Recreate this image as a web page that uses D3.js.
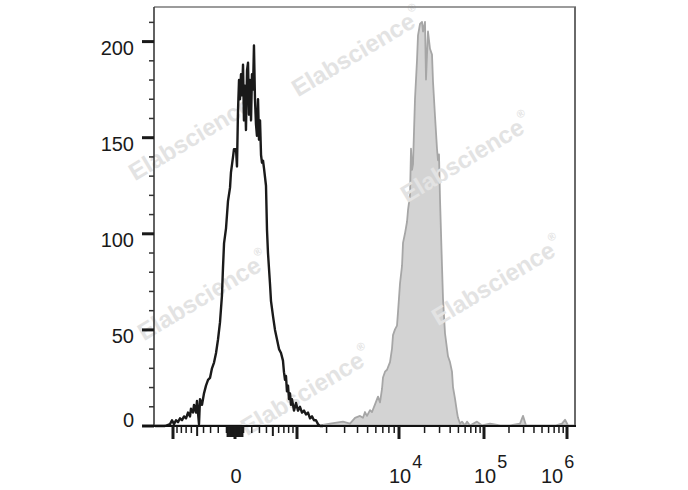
<!DOCTYPE html>
<html><head><meta charset="utf-8">
<script src="https://cdn.jsdelivr.net/npm/d3@7"></script>
<style>body{margin:0;background:#fff}svg{display:block}</style>
</head><body><svg id="c" width="688" height="490"></svg>
<script>
// ---------- data ----------
const yMajorTicks = [0, 50, 100, 150, 200];
const yMinorTicks = [10, 20, 30, 40, 60, 70, 80, 90, 110, 120, 130, 140, 160, 170, 180, 190, 210];
const xAnchorValues = [-1000, 0, 1000, 10000, 100000, 1000000];
const xMajorTicks = [-1000, 0, 1000, 10000, 100000, 1000000];
const xMediumTicks = [-500, 500];
const xMinorTicks = [-900, -800, -700, -600, -400, -300, -200, -100,
  -90, -80, -70, -60, -50, -40, -30, -20, -10, 10, 20, 30, 40, 50, 60, 70, 80, 90,
  100, 200, 300, 400, 600, 700, 800, 900,
  2000, 3000, 4000, 5000, 6000, 7000, 8000, 9000,
  20000, 30000, 40000, 50000, 60000, 70000, 80000, 90000,
  200000, 300000, 400000, 500000, 600000, 700000, 800000, 900000];
const xLabelValues = [0, 10000, 100000, 1000000];
const xLabelBase = ["0", "10", "10", "10"];
const xLabelExponents = ["", "4", "5", "6"];

const unstainedX = [-1570,-1227,-1080,-1026,-974,-924,-876,-830,-786,-743,
  -702,-663,-625,-607,-571,-553,-519,-503,-470,-454,
  -423,-393,-364,-335,-308,-281,-254,-228,-203,-178,
  -154,-142,-129,-105,-82,-58,-47,-35,-23,-12,
  12,23,35,47,58,70,82,94,105,117,
  129,142,154,166,178,191,203,216,228,241,
  254,267,281,294,308,322,335,350,364,393,
  408,423,454,470,503,536,571,607,644,682,
  702,723,743,764,786,808,830,853,876,924,
  974,1025,1076,1129,1185,1243,1303,1366,1431,1499,
  1570,1644,1722,1844];
const unstainedCount = [0,0,1,3,1,3,2,4,3,5,
  4,7,5,9,7,11,7,13,1,14,
  11,17,21,24,25,30,33,38,45,54,
  68,82,95,103,117,124,132,136,140,144,
  144,135,164,180,170,183,172,188,159,177,
  154,185,189,162,180,159,183,175,198,170,
  157,151,170,149,159,141,137,138,134,125,
  102,90,74,65,57,50,45,40,38,34,
  28,24,26,18,21,14,17,11,14,8,
  12,8,10,7,8,6,7,4,5,3,
  3,1,0,0];

const stainedX = [-1610,-454,308,1722,2162,2895,3384,3782,4225,4516,
  4720,4935,5273,5511,5890,6293,6578,6873,7026,7346,
  7677,8202,8571,8761,9156,9570,9783,10281,10853,11151,
  11771,12427,12768,13478,13848,14228,14619,15432,16291,16738,
  17670,18652,19164,20231,20786,21357,21943,23164,24452,25123,
  26522,27997,28767,29557,30369,32055,32937,34769,36704,37712,
  39805,42026,43184,45585,48123,49441,52194,55098,59760,63082,
  68421,82705,94691,118120,155890,205750,271560,295140,320760,473020,
  717100,871000,946700,1028800,1249000];
const stainedCount = [0,0,0,0,1,2,1,4,5,4,
  7,5,8,7,11,15,12,19,25,28,
  29,33,40,47,50,52,59,74,83,95,
  100,106,112,120,144,133,136,170,190,203,
  209,210,205,210,180,193,205,196,193,179,
  161,144,138,141,118,83,66,48,40,36,
  33,28,20,14,7,4,1,2,0,2,
  0,2,0,1,0,0,1,5,0,0,
  0,1,3,0,0];

const watermarkText = "Elabscience";

// ---------- layout ----------
const W = 688, H = 490;
const L = 154, R = 575, TOP = 7, BOT = 426;
const FONT = "'Liberation Sans', Arial, Helvetica, sans-serif";

const svg = d3.select("#c");

// biexponential-like display transform
const tr = v => Math.asinh(v / 500);
const xs = d3.scaleLinear()
  .domain(xAnchorValues.map(tr))
  .range([173, 235, 297, 399, 484, 567]);
const x = v => xs(tr(v));
const y = d3.scaleLinear().domain([0, 218]).range([BOT, TOP]);

const unstained = unstainedX.map((v, i) => ({v, c: unstainedCount[i]}));
const stained = stainedX.map((v, i) => ({v, c: stainedCount[i]}));

// stained (grey filled)
svg.append("path")
  .datum(stained)
  .attr("d", d3.area().x(d => x(d.v)).y0(y(0) - 0.5).y1(d => y(d.c) - 0.5))
  .attr("fill", "#d3d3d3")
  .attr("stroke", "#a6a6a6")
  .attr("stroke-width", 1.8)
  .attr("stroke-linejoin", "round");

// watermarks
const wm = [[357, 52], [194, 136], [466, 158], [203, 296], [497, 281], [306, 391]];
const wg = svg.append("g");
wm.forEach(([cx, cy]) => {
  const t = wg.append("text")
    .attr("transform", `translate(${cx},${cy}) rotate(-31)`)
    .attr("text-anchor", "middle")
    .attr("dominant-baseline", "central")
    .attr("font-family", FONT)
    .attr("font-weight", "bold")
    .attr("font-size", 24)
    .attr("fill", "#e3e3e3")
    .text(watermarkText);
  t.append("tspan").attr("font-size", 11).attr("dy", -10).attr("dx", 1).text("®");
});

// unstained (black outline)
svg.append("path")
  .datum(unstained)
  .attr("d", d3.line().x(d => x(d.v)).y(d => y(d.c)))
  .attr("fill", "none")
  .attr("stroke", "#1a1a1a")
  .attr("stroke-width", 2.4)
  .attr("stroke-linejoin", "round");

// frame
svg.append("line").attr("x1", L).attr("x2", R + 1).attr("y1", TOP).attr("y2", TOP)
  .attr("stroke", "#7a7a7a").attr("stroke-width", 1.6);
svg.append("line").attr("x1", R).attr("x2", R).attr("y1", TOP).attr("y2", BOT)
  .attr("stroke", "#6a6a6a").attr("stroke-width", 2);
svg.append("line").attr("x1", L).attr("x2", L).attr("y1", TOP).attr("y2", BOT)
  .attr("stroke", "#3a3a3a").attr("stroke-width", 1.6);

// y axis ticks
svg.append("g").selectAll("line").data(yMinorTicks).join("line")
  .attr("x1", L - 5).attr("x2", L).attr("y1", d => y(d)).attr("y2", d => y(d))
  .attr("stroke", "#333").attr("stroke-width", 1.5);
svg.append("g").selectAll("line").data(yMajorTicks).join("line")
  .attr("x1", L - 12).attr("x2", L).attr("y1", d => y(d)).attr("y2", d => y(d))
  .attr("stroke", "#1a1a1a").attr("stroke-width", 3);
svg.append("g").selectAll("text").data(yMajorTicks).join("text")
  .attr("x", 134)
  .attr("y", d => y(d) + (d === 0 ? 1 : 13.5))
  .attr("text-anchor", "end")
  .attr("font-family", FONT).attr("font-size", 20).attr("fill", "#1a1a1a")
  .text(d => d);

// x axis line
svg.append("line").attr("x1", L - 11).attr("x2", R + 1).attr("y1", BOT).attr("y2", BOT)
  .attr("stroke", "#111").attr("stroke-width", 2);

// x ticks
svg.append("g").selectAll("line").data(xMinorTicks).join("line")
  .attr("x1", d => x(d)).attr("x2", d => x(d))
  .attr("y1", BOT).attr("y2", d => Math.abs(d) < 100 ? BOT + 11 : BOT + 7)
  .attr("stroke", "#1a1a1a").attr("stroke-width", 1.5);
svg.append("g").selectAll("line").data(xMediumTicks).join("line")
  .attr("x1", d => x(d)).attr("x2", d => x(d))
  .attr("y1", BOT).attr("y2", BOT + 10)
  .attr("stroke", "#1a1a1a").attr("stroke-width", 2);
svg.append("g").selectAll("line").data(xMajorTicks).join("line")
  .attr("x1", d => x(d)).attr("x2", d => x(d))
  .attr("y1", BOT).attr("y2", BOT + 13)
  .attr("stroke", "#1a1a1a").attr("stroke-width", 3);

// x labels
const xl = svg.append("g").selectAll("text").data(xLabelValues).join("text")
  .attr("font-family", FONT).attr("font-size", 20).attr("fill", "#1a1a1a")
  .attr("y", 483)
  .attr("x", (d, i) => i === 0 ? x(d) + 1 : x(d) - (i === xLabelValues.length - 1 ? 26 : 10))
  .attr("text-anchor", (d, i) => i === 0 ? "middle" : "start")
  .text((d, i) => xLabelBase[i]);
xl.filter((d, i) => xLabelExponents[i] !== "")
  .append("tspan").attr("dy", -15).attr("dx", 1).attr("font-size", 18)
  .text((d) => xLabelExponents[xLabelValues.indexOf(d)]);
</script>
</body></html>
